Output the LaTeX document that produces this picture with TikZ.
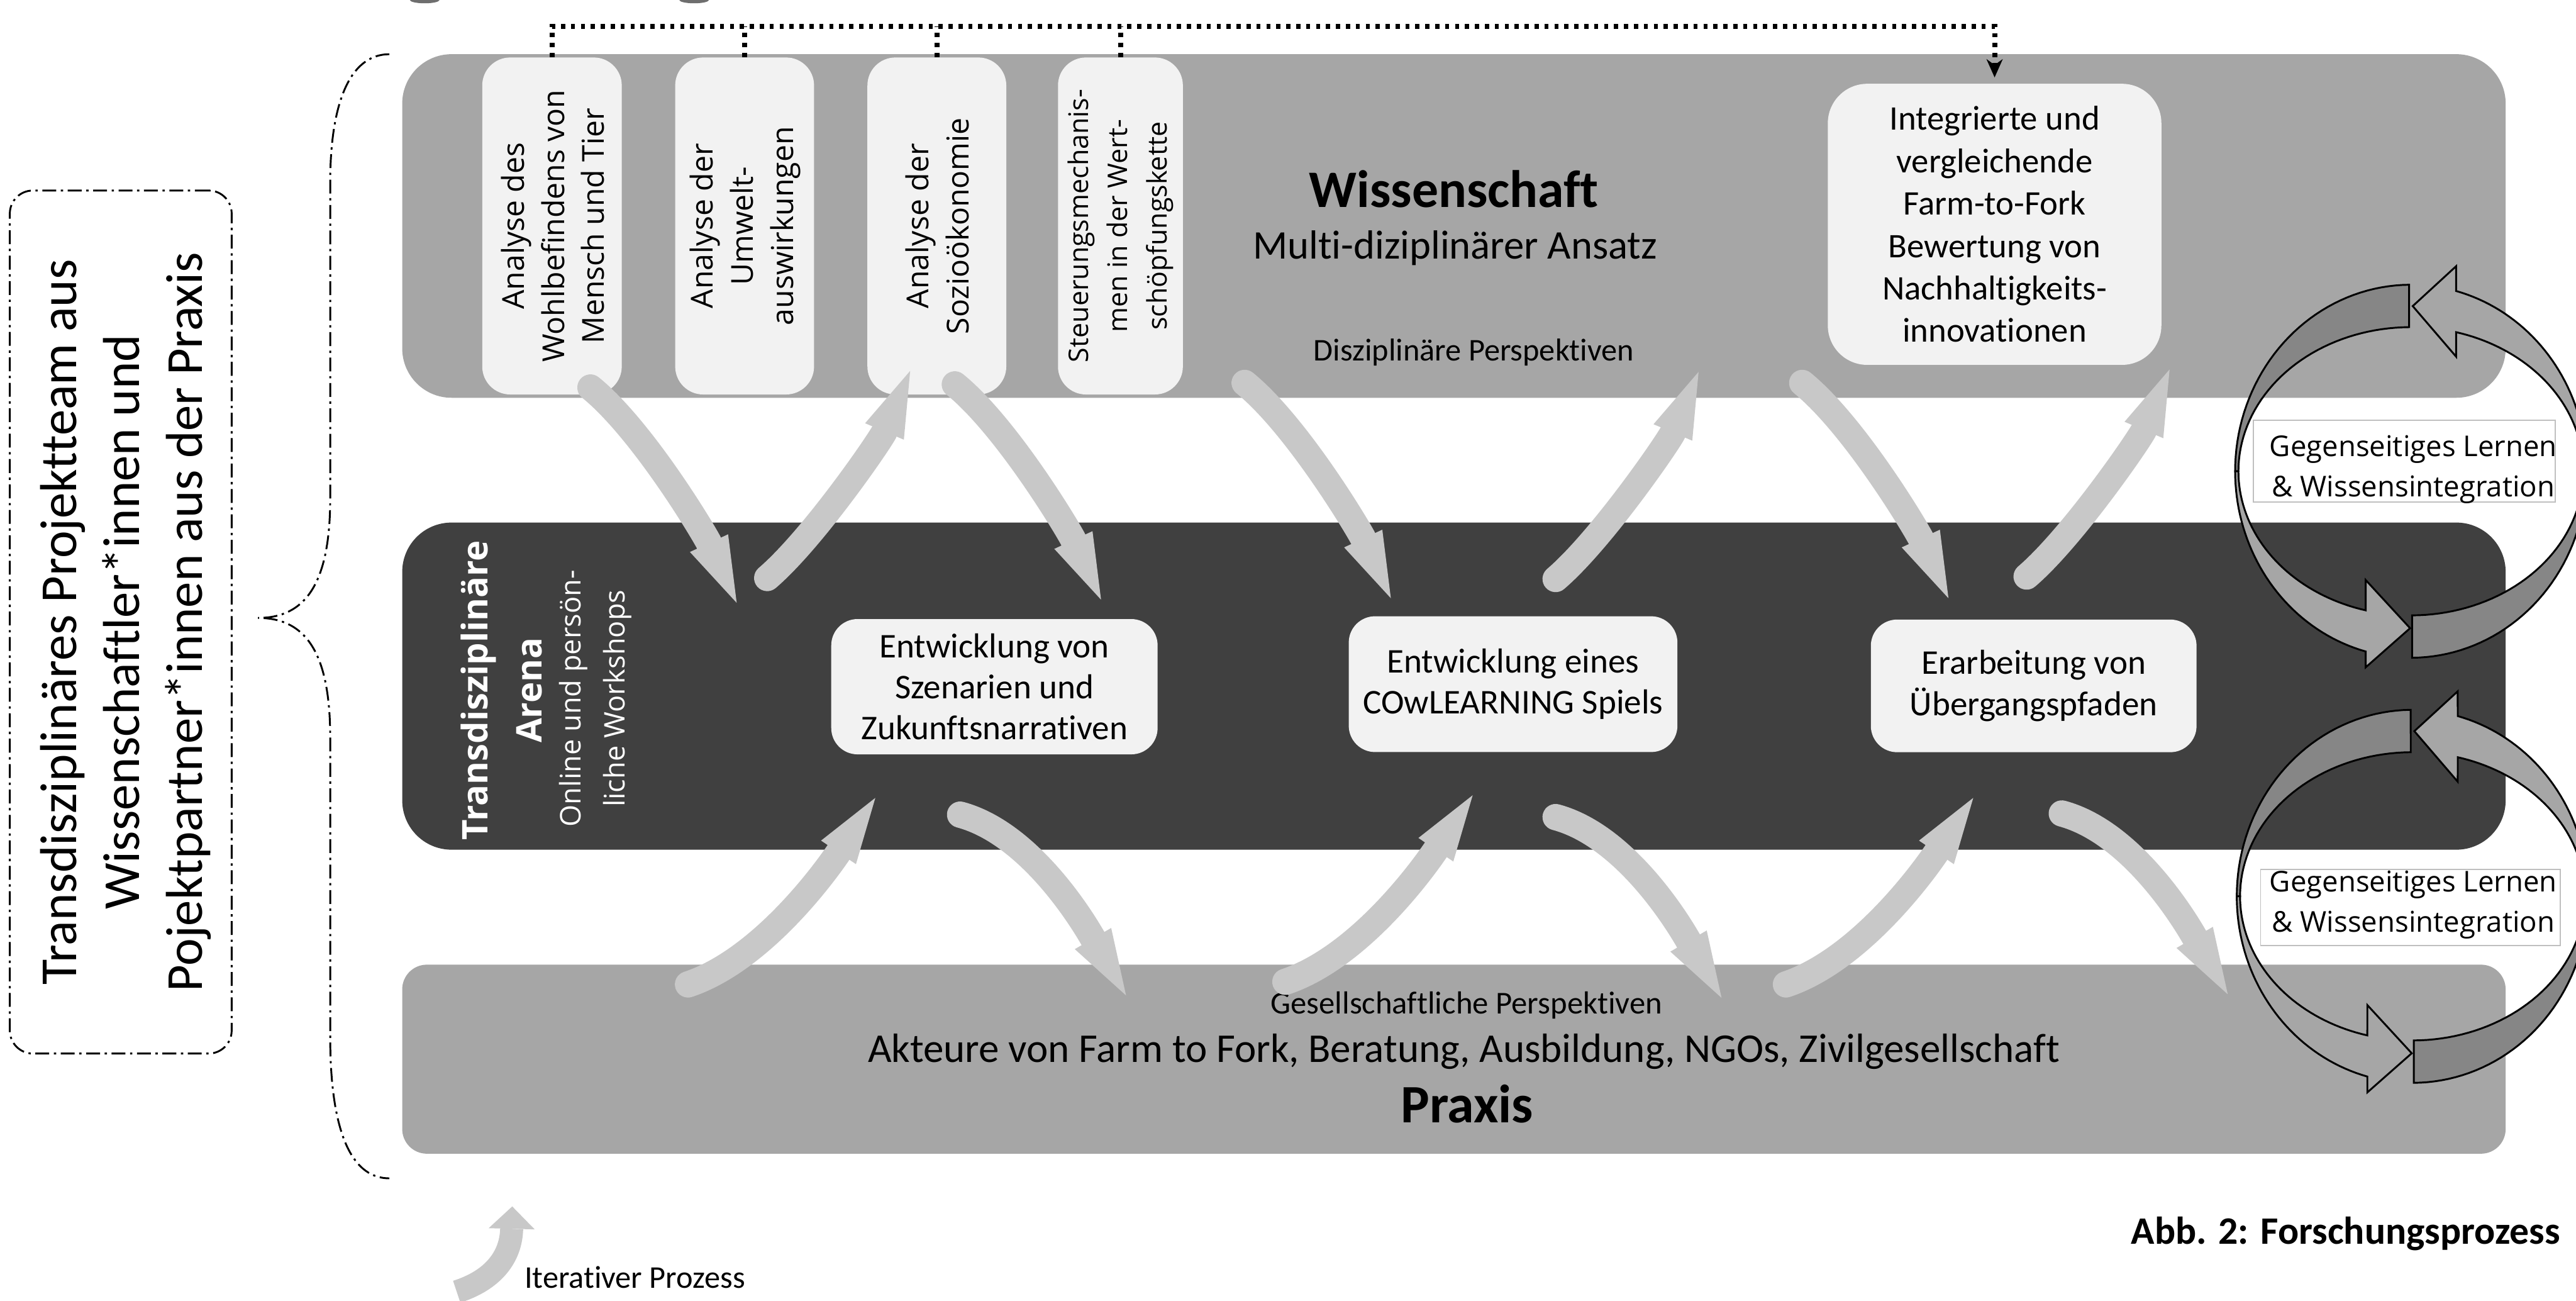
\documentclass[tikz,border=0pt]{standalone}
\usepackage{fontspec}
\setmainfont{Carlito}[Ligatures=NoCommon]
\newfontfamily\osans{Open Sans}
\usetikzlibrary{arrows.meta}
\definecolor{bandgrey}{HTML}{A6A6A6}
\definecolor{arenagrey}{HTML}{404040}
\definecolor{boxfill}{HTML}{F2F2F2}
\definecolor{arrowgrey}{HTML}{C8C8C8}
\definecolor{loopdark}{HTML}{868686}
\definecolor{looplight}{HTML}{A6A6A6}
\definecolor{fraggrey}{HTML}{6E6E6E}
\tikzset{
 band/.style={inner sep=0pt, rounded corners=0.75cm},
 lightbox/.style={fill=boxfill, inner sep=0pt, align=center},
 vtext/.style={rotate=90, align=center, inner sep=0pt},
 itarrow/.style={draw=arrowgrey, line width=0.4cm, line cap=round, -{Triangle[length=1.0cm,width=0.64cm,line width=0pt]}},
 legarrow/.style={draw=arrowgrey, line width=0.35cm, -{Triangle[length=0.34cm,width=0.7cm,line width=0pt]}},
 dotline/.style={draw=black, line width=2.2pt, dash pattern=on 1.8pt off 2.5pt},
 loopdk/.style={fill=loopdark, draw=black, line width=0.8pt, line join=miter},
 looplt/.style={fill=looplight, draw=black, line width=0.8pt, line join=miter},
 dashdot/.style={draw=black, line width=0.8pt, dash pattern=on 6pt off 2pt on 1pt off 2pt},
 glbox/.style={draw=gray!50, line width=0.5pt, fill=white, inner sep=0pt},
}
\newcommand{\learnloop}[2]{%
\begin{scope}[shift={(#1,#2)}]
 \filldraw[loopdk] plot[domain=90.6:180,samples=40] ({107*cos(\x)},{-113.5*sin(\x)}) -- plot[domain=180:90.6,samples=40] ({105*cos(\x)},{-87.7*sin(\x)}) -- cycle;
 \filldraw[loopdk] plot[domain=270.4:360,samples=40] ({107*cos(\x)},{-113.5*sin(\x)}) -- plot[domain=360:270.4,samples=40] ({105*cos(\x)},{-87.7*sin(\x)}) -- cycle;
 \filldraw[looplt] plot[domain=0:75.1,samples=40] ({107*cos(\x)},{-113.5*sin(\x)}) -- (27.5,-124.75) -- (1.1,-100.5) -- (27.5,-69.75) -- plot[domain=74.8:0,samples=40] ({105*cos(\x)},{-87.7*sin(\x)}) -- cycle;
 \filldraw[looplt] plot[domain=180:255.1,samples=40] ({107*cos(\x)},{-113.5*sin(\x)}) -- (-27.5,119.3) -- (-0.5,95.5) -- (-27.5,66.2) -- plot[domain=254.8:180,samples=40] ({105*cos(\x)},{-87.7*sin(\x)}) -- cycle;
\end{scope}}
\begin{document}
\begin{tikzpicture}[x=0.025cm,y=-0.025cm]
\fill[white] (0,0) rectangle (1568,791.45);
\useasboundingbox (0,0) rectangle (1568,791.45);
% cut-off fragments at top edge
\fill[fraggrey] (258.5,0) ellipse [x radius=9, y radius=2];
\fill[fraggrey] (422.5,0) ellipse [x radius=9, y radius=2];
% left team box and brace
\node[dashdot, rounded corners=0.35cm, minimum width=3.375cm, minimum height=13.125cm, inner sep=0pt] (team) at (73.5,378.5) {};
\node[vtext, font=\fontsize{22.5}{27.3}\selectfont] (teamt) at (76.5,378.5) {Transdisziplinäres Projektteam aus\\Wissenschaftler*innen und\\Pojektpartner*innen aus der Praxis};
\draw[dashdot] (237,33) .. controls (212,33) and (201,65) .. (201,111) -- (201,303) .. controls (201,355) and (186,376) .. (157,376) .. controls (186,376) and (201,397) .. (201,449) -- (201,631) .. controls (201,684) and (212,717) .. (237,717);
% bands
\node[band, fill=bandgrey, minimum width=32cm, minimum height=5.225cm] (wiss) at (885,137.5) {};
\node[band, fill=arenagrey, minimum width=32cm, minimum height=4.975cm] (arena) at (885,417.5) {};
\node[band, fill=bandgrey, minimum width=32cm, minimum height=2.875cm, rounded corners=0.375cm] (praxis) at (885,644.5) {};
% discipline boxes
\node[lightbox, minimum width=2.1225cm, minimum height=5.125cm, rounded corners=0.425cm] (sb1) at (336,137.5) {};
\node[lightbox, minimum width=2.1125cm, minimum height=5.125cm, rounded corners=0.425cm] (sb2) at (453.25,137.5) {};
\node[lightbox, minimum width=2.1125cm, minimum height=5.125cm, rounded corners=0.425cm] (sb3) at (570.25,137.5) {};
\node[lightbox, minimum width=1.9cm, minimum height=5.125cm, rounded corners=0.425cm] (sb4) at (682,137.5) {};
\node[vtext, font=\osans\fontsize{13.1}{17.4}\selectfont] (sb1t) at (336.5,137.5) {Analyse des\\Wohlbefindens von\\Mensch und Tier};
\node[vtext, font=\osans\fontsize{13.1}{17.4}\selectfont] (sb2t) at (453.5,137.5) {Analyse der\\Umwelt-\\auswirkungen};
\node[vtext, font=\osans\fontsize{13.1}{17.4}\selectfont] (sb3t) at (570.5,137.5) {Analyse der\\Sozioökonomie};
\node[vtext, font=\osans\fontsize{11.7}{17}\selectfont] (sb4t) at (682,137.5) {Steuerungsmechanis-\\men in der Wert-\\schöpfungskette};
\node[lightbox, minimum width=5.075cm, minimum height=4.275cm, rounded corners=0.6cm, font=\fontsize{14.9}{18.35}\selectfont] (intbox) at (1214.1,136.5) {Integrierte und\\vergleichende\\Farm-to-Fork\\Bewertung von\\Nachhaltigkeits-\\innovationen};
% Wissenschaft texts
\node[anchor=base, inner sep=0pt, font=\bfseries\fontsize{22.8}{27}\selectfont] (wisst) at (885,126) {Wissenschaft};
\node[anchor=base, inner sep=0pt, font=\fontsize{17.6}{21}\selectfont] (wisss) at (885.7,157.5) {Multi-diziplinärer Ansatz};
\node[anchor=base, inner sep=0pt, font=\fontsize{13.7}{16}\selectfont] (wissp) at (897,219.7) {Disziplinäre Perspektiven};
% Arena texts and boxes
\node[vtext, text=white, font=\osans\bfseries\fontsize{15.3}{23.2}\selectfont] (arenat) at (305.3,420) {Transdisziplinäre\\Arena};
\node[vtext, text=white, font=\osans\fontsize{12.3}{19.2}\selectfont] (arenas) at (362.5,425) {Online und persön-\\liche Workshops};
\node[lightbox, minimum width=4.965cm, minimum height=2.0575cm, rounded corners=0.4cm, font=\fontsize{15}{17.8}\selectfont] (ma) at (605.3,417.85) {Entwicklung von\\Szenarien und\\Zukunftsnarrativen};
\node[lightbox, minimum width=5cm, minimum height=2.065cm, rounded corners=0.4cm, font=\fontsize{15}{17.8}\selectfont] (mb) at (921,416.3) {Entwicklung eines\\COwLEARNING Spiels};
\node[lightbox, minimum width=4.955cm, minimum height=2.0175cm, rounded corners=0.4cm, font=\fontsize{15}{17.8}\selectfont] (mc) at (1237.9,417.35) {Erarbeitung von\\Übergangspfaden};
% Praxis texts
\node[anchor=base, inner sep=0pt, font=\fontsize{13.8}{16}\selectfont] (praxp) at (892.6,617) {Gesellschaftliche Perspektiven};
\node[anchor=base, inner sep=0pt, font=\fontsize{17.7}{21}\selectfont] (praxs) at (891,646.4) {Akteure von Farm to Fork, Beratung, Ausbildung, NGOs, Zivilgesellschaft};
\node[anchor=base, inner sep=0pt, font=\bfseries\fontsize{23.4}{27}\selectfont] (praxt) at (893,683) {Praxis};
% iterative arrows: science -> arena
\foreach \tx/\ty in {359.4/235.8, 581.2/233.9, 757.6/233, 1097/233}
  \draw[itarrow, shift={(\tx,\ty)}] (0,0) .. controls (32,26) and (70,90) .. (89,131);
% arena -> science
\foreach \tx/\ty in {467/351.7, 946.9/352.3, 1233.6/350.8}
  \draw[itarrow, shift={(\tx,\ty)}] (0,0) .. controls (28,-24) and (69.4,-84.5) .. (87,-126);
% arena -> practice
\foreach \tx/\ty in {584.4/495.7, 946.9/497.2, 1255/495}
  \draw[itarrow, shift={(\tx,\ty)}] (0,0) .. controls (45,12) and (78.4,71.1) .. (101,110);
% practice -> arena
\foreach \tx/\ty in {418.8/599, 782.4/597.4, 1087.1/599}
  \draw[itarrow, shift={(\tx,\ty)}] (0,0) .. controls (48,-16) and (88.8,-76.2) .. (114,-113.5);
% learning loops
\learnloop{1467.5}{286.75}
\learnloop{1468.5}{545.4}
\node[glbox, minimum width=4.595cm, minimum height=1.2425cm] (gl1) at (1463.5,280.65) {};
\node[align=center, inner sep=0pt, font=\osans\fontsize{12.4}{17.3}\selectfont] (gl1t) at (1469,285.6) {Gegenseitiges Lernen\\\& Wissensintegration};
\node[glbox, minimum width=4.5625cm, minimum height=1.16cm] (gl2) at (1467.25,552.2) {};
\node[align=center, inner sep=0pt, font=\osans\fontsize{12.4}{17.3}\selectfont] (gl2t) at (1469,550.5) {Gegenseitiges Lernen\\\& Wissensintegration};
% dotted connector
\coordinate (dtop) at (0,16);
\draw[dotline] (sb2.north) -- (sb2.north |- dtop);
\draw[dotline] (sb3.north) -- (sb3.north |- dtop);
\draw[dotline] (sb4.north) -- (sb4.north |- dtop);
\draw[dotline, shorten >=0.09cm, -{Stealth[length=0.28cm,width=0.25cm,line width=0pt]}] (sb1.north) -- (sb1.north |- dtop) -| (intbox.north);
% legend and caption
\draw[legarrow] (278,786) .. controls (300,779) and (311,765) .. (311.8,734.1);
\node[anchor=base west, inner sep=0pt, font=\fontsize{13.7}{16}\selectfont] (legt) at (319,783.8) {Iterativer Prozess};
\node[anchor=base west, inner sep=0pt, font=\bfseries\fontsize{16.8}{20}\selectfont] (caption) at (1297,757) {Abb. 2: Forschungsprozess};
\end{tikzpicture}
\end{document}
